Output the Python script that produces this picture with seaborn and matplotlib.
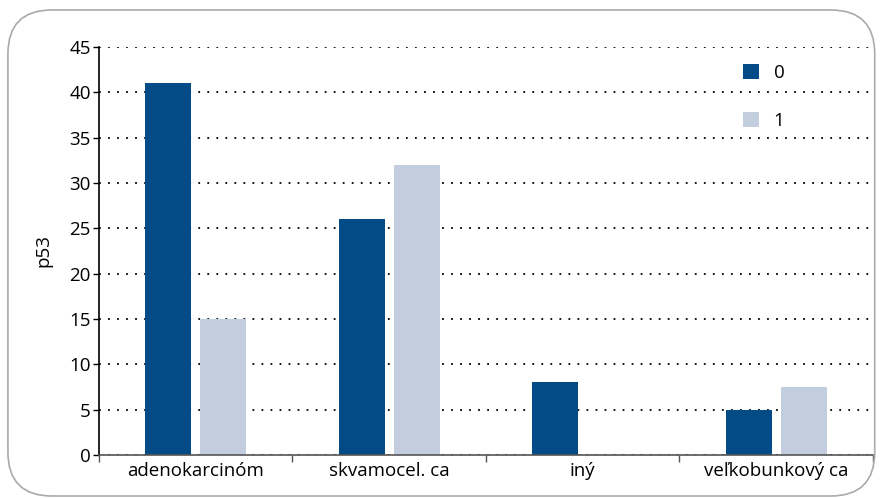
import matplotlib
matplotlib.use("Agg")
import matplotlib.pyplot as plt
import seaborn as sns
import pandas as pd
from matplotlib.patches import FancyBboxPatch

# --- data ---
categories = ["adenokarcinóm", "skvamocel. ca", "iný", "veľkobunkový ca"]
values_0 = [41, 26, 8, 5]
values_1 = [15, 32, 0, 7.5]
groups = ["0", "1"]
colors = ["#034B87", "#C2CDDD"]

df = pd.DataFrame({
    "typ": categories * 2,
    "p53": values_0 + values_1,
    "skupina": [groups[0]] * len(categories) + [groups[1]] * len(categories),
})

sns.set_theme(style="white")
plt.rcParams["font.family"] = ["Open Sans", "DejaVu Sans"]
plt.rcParams["text.color"] = "black"
plt.rcParams["xtick.color"] = "black"
plt.rcParams["ytick.color"] = "black"
plt.rcParams["axes.labelcolor"] = "black"

fig = plt.figure(figsize=(8.8, 4.98), dpi=100)
ax = fig.add_axes([0.1125, 0.0863, 0.8795, 0.8193])

# rounded frame around the figure
frame = FancyBboxPatch((0.009, 0.004), 0.985, 0.976, boxstyle="round,pad=0,rounding_size=0.05",
                       transform=fig.transFigure, facecolor="none", edgecolor="#AAAAAA",
                       linewidth=1.2, mutation_aspect=880 / 498)
fig.patches.append(frame)

sns.barplot(data=df, x="typ", y="p53", hue="skupina", palette=colors,
            width=0.568, gap=0.16, ax=ax, saturation=1, linewidth=0)

ax.set_axisbelow(True)
ax.set_ylim(0, 45)
ax.set_yticks(range(0, 46, 5))
ax.set_xlim(-0.5, 3.5)
ax.yaxis.grid(True, linestyle=(0, (1, 4)), color="black", linewidth=1.3)
ax.xaxis.grid(False)

ax.set_xlabel("")
ax.set_ylabel("p53", fontsize=13.5, labelpad=12)
ax.tick_params(axis="y", which="major", length=4, width=1, direction="out",
               color="black", labelsize=13.5, left=True, pad=2)
ax.tick_params(axis="x", which="major", length=0, labelsize=13.5, pad=5)
ax.set_xticks([-0.5, 0.5, 1.5, 2.5, 3.5], minor=True)
ax.tick_params(axis="x", which="minor", length=5, width=1, color="#555555",
               direction="out", bottom=True)

for s in ["top", "right"]:
    ax.spines[s].set_visible(False)
ax.spines["left"].set_color("black")
ax.spines["left"].set_linewidth(1.2)
ax.spines["bottom"].set_color("#555555")
ax.spines["bottom"].set_linewidth(1.2)

leg = ax.legend(loc="upper left", bbox_to_anchor=(0.81, 1.0), frameon=False,
                fontsize=13.5, handlelength=0.85, handleheight=0.85,
                labelspacing=1.6, handletextpad=0.8, title=None)

fig.savefig("out.png", dpi=100)
